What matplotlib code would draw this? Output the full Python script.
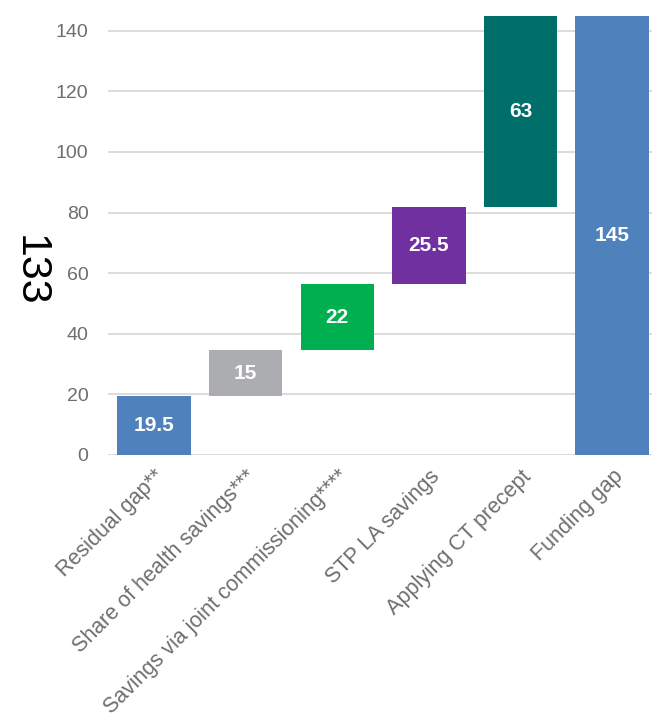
import matplotlib.pyplot as plt
import numpy as np

plt.rcParams['font.family'] = ['Liberation Sans', 'DejaVu Sans']

categories = ["Residual gap**", "Share of health savings***",
              "Savings via joint commissioning****", "STP LA savings",
              "Applying CT precept", "Funding gap"]
values = [19.5, 15, 22, 25.5, 63, 145]
colors = ["#4F81BD", "#ACADB1", "#00B050", "#7030A0", "#006E69", "#4F81BD"]

# waterfall: each step starts where the previous one ended, the total starts at 0
bottoms = list(np.cumsum([0] + values[:4])) + [0]

fig = plt.figure(figsize=(6.52, 7.13), dpi=100)
ax = fig.add_axes([108 / 652, 1 - 455 / 713, 550 / 652, (455 - 15.6) / 713])

x = np.arange(len(categories))
bars = ax.bar(x, values, bottom=bottoms, width=0.8, color=colors, zorder=3)

for b, v, bot in zip(bars, values, bottoms):
    ax.text(b.get_x() + b.get_width() / 2, bot + v / 2, f"{v:g}",
            ha="center", va="center", color="white", fontsize=15,
            fontweight="bold", zorder=4)

ax.set_xlim(-0.5, len(categories) - 0.5)
ax.set_ylim(0, 145)
ax.set_yticks(range(0, 141, 20))
ax.yaxis.grid(True, color="#D9D9D9", linewidth=1.3, zorder=0)
ax.set_axisbelow(True)
for s in ax.spines.values():
    s.set_visible(False)
ax.tick_params(axis="both", length=0, labelsize=14, labelcolor="#6E6E6E")
ax.tick_params(axis="y", pad=14)
ax.set_xticks(x)
ax.set_xticklabels(categories, rotation=45, ha="right", va="top",
                   rotation_mode="anchor", fontsize=15.5)
ax.tick_params(axis="x", pad=8)

fig.text(30 / 652, 1 - 271 / 713, "133", rotation=270, fontsize=31,
         ha="center", va="center", color="black")

fig.savefig("out.png", dpi=100)
